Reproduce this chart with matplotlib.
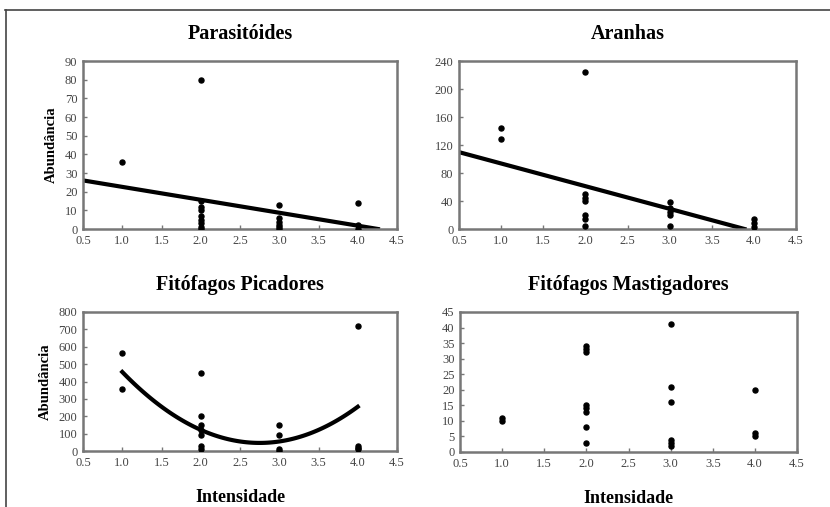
import numpy as np
import matplotlib.pyplot as plt
from matplotlib.lines import Line2D

plt.rcParams['font.family'] = ['Liberation Serif', 'DejaVu Serif']

# data
par_x = [1, 2, 2, 2, 2, 2, 2, 2, 2, 2, 3, 3, 3, 3, 3, 3, 4, 4, 4]
par_y = [36, 80, 15, 12, 10, 7, 5, 3, 1, 0, 13, 6, 4, 2, 1, 0, 14, 2, 0]
par_fit = [29.5, -6.93]  # a + b*x

ara_x = [1, 1, 2, 2, 2, 2, 2, 2, 2, 3, 3, 3, 3, 3, 4, 4, 4]
ara_y = [145, 128, 225, 50, 45, 40, 20, 15, 5, 38, 30, 25, 20, 5, 15, 8, 3]
ara_fit = [126.0, -32.4]

pic_x = [1, 1, 2, 2, 2, 2, 2, 2, 2, 3, 3, 3, 3, 4, 4, 4, 4]
pic_y = [565, 355, 450, 200, 150, 120, 90, 30, 10, 150, 90, 10, 0, 720, 30, 20, 10]
pic_fit = [1055.0, -733.3, 133.3]  # a + b*x + c*x^2

mas_x = [1, 1, 2, 2, 2, 2, 2, 2, 2, 2, 3, 3, 3, 3, 3, 3, 4, 4, 4]
mas_y = [11, 10, 34, 33, 32, 15, 14, 13, 8, 3, 41, 21, 16, 4, 3, 2, 20, 6, 5]

xticks = np.arange(0.5, 4.51, 0.5)

fig = plt.figure(figsize=(8.3, 5.07), dpi=100)
W, H = 830, 507


def make_ax(l, t, r, b):
    return fig.add_axes([l / W, 1 - b / H, (r - l) / W, (b - t) / H])


def style(ax, title, ymax, ystep, ylabel=None, xlabel=None):
    ax.set_xlim(0.5, 4.5)
    ax.set_ylim(0, ymax)
    ax.set_xticks(xticks)
    ax.set_xticklabels([f"{v:.1f}" for v in xticks])
    ax.set_yticks(np.arange(0, ymax + 0.1, ystep))
    ax.tick_params(direction='in', length=3, width=1, color='#777777',
                   labelsize=9, labelcolor='#444444', pad=4)
    for s in ax.spines.values():
        s.set_color('#777777')
        s.set_linewidth(1.8)
    ax.set_title(title, fontsize=14.5, fontweight='bold', pad=16)
    if ylabel:
        ax.set_ylabel(ylabel, fontsize=10.5, fontweight='bold', labelpad=5)
    if xlabel:
        ax.set_xlabel(xlabel, fontsize=13, fontweight='bold', labelpad=15)


ax1 = make_ax(83, 61, 397, 229)
ax1.scatter(par_x, par_y, s=13, color='black', zorder=3)
xl = np.linspace(0.5, -par_fit[0] / par_fit[1], 50)
ax1.plot(xl, par_fit[0] + par_fit[1] * xl, color='black', lw=3)
style(ax1, 'Parasitóides', 90, 10, ylabel='Abundância')

ax2 = make_ax(459, 61, 796, 229)
ax2.scatter(ara_x, ara_y, s=13, color='black', zorder=3)
xl = np.linspace(0.5, -ara_fit[0] / ara_fit[1], 50)
ax2.plot(xl, ara_fit[0] + ara_fit[1] * xl, color='black', lw=3)
style(ax2, 'Aranhas', 240, 40)

ax3 = make_ax(83, 312, 397, 451)
ax3.scatter(pic_x, pic_y, s=13, color='black', zorder=3)
xl = np.linspace(1, 4, 100)
ax3.plot(xl, pic_fit[0] + pic_fit[1] * xl + pic_fit[2] * xl ** 2,
         color='black', lw=3)
style(ax3, 'Fitófagos Picadores', 800, 100, ylabel='Abundância',
      xlabel='Intensidade')

ax4 = make_ax(460, 312, 797, 452)
ax4.scatter(mas_x, mas_y, s=13, color='black', zorder=3)
style(ax4, 'Fitófagos Mastigadores', 45, 5, xlabel='Intensidade')

# frame lines at top and left of the picture
fig.add_artist(Line2D([5 / W, 1], [1 - 9.5 / H, 1 - 9.5 / H], color='#444444', lw=1.2))
fig.add_artist(Line2D([5.5 / W, 5.5 / W], [0, 1 - 9.5 / H], color='#444444', lw=1.2))

fig.savefig('out.png', dpi=100, facecolor='white')
